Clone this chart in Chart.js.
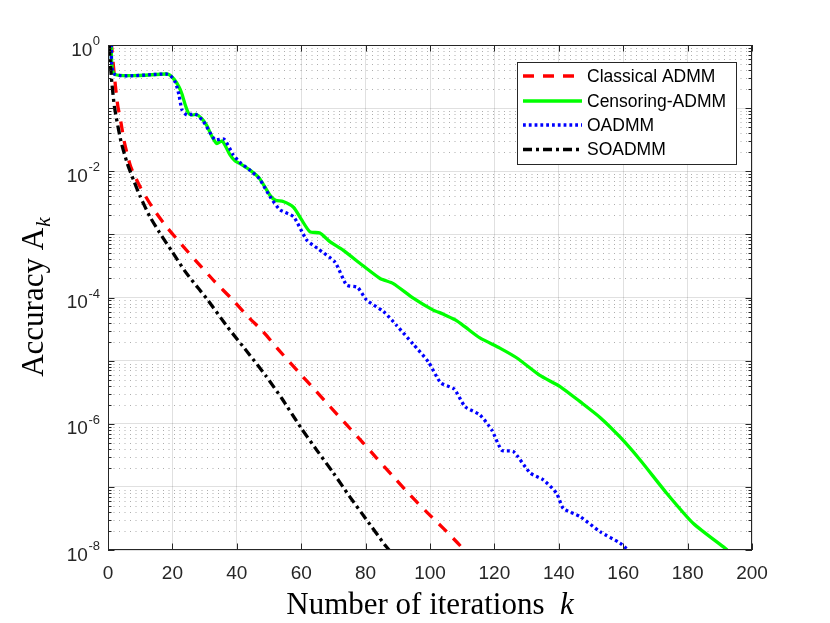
<!DOCTYPE html>
<html>
<head>
<meta charset="utf-8">
<script src="https://cdn.jsdelivr.net/npm/chart.js@4.4.1/dist/chart.umd.min.js"></script>
<style>
  html, body { margin: 0; padding: 0; background: #fff; }
  #wrap { width: 830px; height: 623px; position: relative; }
</style>
</head>
<body>
<div id="wrap"><canvas id="grafico"></canvas></div>
<script>
// iteration k and accuracy A_k
const kClassical = [1, 2, 3, 4, 5, 7, 10, 14, 18, 23, 28, 33, 38, 44, 48, 53, 59, 64, 69, 74, 79, 83, 89, 94, 99, 104, 109, 110.5];
const accClassical = [1.12, 0.316, 0.112, 0.0603, 0.0302, 0.0120, 5.62e-3, 2.57e-3, 1.35e-3, 6.76e-4, 3.47e-4, 1.82e-4, 1.0e-4,
  4.68e-5, 2.95e-5, 1.48e-5, 6.76e-6, 3.55e-6, 1.86e-6, 9.77e-7, 5.13e-7, 3.02e-7, 1.38e-7, 7.24e-8, 3.98e-8, 2.24e-8, 1.23e-8, 1.0e-8];

const kCensoring = [1, 2, 18, 19, 20.5, 22, 23, 24, 25, 26, 27.5, 29, 30.6, 32.3, 33.8, 35.5, 37.9, 39.5, 41, 44, 47, 50.3, 52, 54.4,
  57.6, 60, 62.7, 65.8, 69, 73, 79, 84.5, 88.6, 94.8, 101, 104, 108, 111, 115.5, 121.7, 127, 134, 140.4, 146.6, 152.8, 159, 165.2,
  173.5, 181.8, 191.6, 192.3];
const accCensoring = [1.26, 0.347, 0.347, 0.339, 0.288, 0.219, 0.166, 0.112, 0.0832, 0.0776, 0.0794, 0.0692, 0.0537, 0.0355, 0.0275,
  0.0302, 0.0182, 0.0145, 0.0132, 0.0105, 7.76e-3, 4.17e-3, 3.47e-3, 3.31e-3, 2.69e-3, 1.74e-3, 1.10e-3, 1.05e-3, 7.59e-4, 5.62e-4,
  3.24e-4, 2.00e-4, 1.66e-4, 9.77e-5, 6.31e-5, 5.50e-5, 4.37e-5, 3.39e-5, 2.29e-5, 1.58e-5, 1.10e-5, 5.89e-6, 3.89e-6, 2.24e-6,
  1.26e-6, 6.17e-7, 2.69e-7, 7.94e-8, 2.63e-8, 1.07e-8, 1.0e-8];

const kOadmm = [1, 2, 18, 19.5, 21, 22, 23, 24.5, 27, 29.6, 33.2, 36, 38.9, 41, 44, 47, 50.3, 53.4, 57.6, 61.7, 65, 70.5, 74.1, 77.5,
  80.3, 85.5, 89.6, 94.8, 99.5, 103.3, 107.5, 110.9, 115.5, 119.2, 122.3, 125.9, 131.1, 135.2, 139.3, 141.4, 146.6, 152.8, 159, 161.5];
const accOadmm = [1.26, 0.347, 0.347, 0.324, 0.251, 0.166, 0.0933, 0.0776, 0.0813, 0.0617, 0.0316, 0.0324, 0.0182, 0.0138, 0.0105,
  7.59e-3, 3.98e-3, 2.45e-3, 1.91e-3, 8.13e-4, 6.03e-4, 3.63e-4, 1.58e-4, 1.45e-4, 9.12e-5, 6.03e-5, 3.63e-5, 1.82e-5, 9.55e-6,
  4.47e-6, 3.55e-6, 1.86e-6, 1.38e-6, 7.94e-7, 3.80e-7, 3.63e-7, 1.66e-7, 1.29e-7, 7.94e-8, 4.57e-8, 3.39e-8, 1.95e-8, 1.29e-8, 1.0e-8];

const kSoadmm = [0, 1, 2, 4, 6, 8, 10, 13, 16, 20, 24, 28, 31, 37, 44, 49, 54, 60, 65, 70, 75, 80, 86, 87.3];
const accSoadmm = [2.0, 0.331, 0.105, 0.0302, 0.0132, 7.08e-3, 3.98e-3, 1.91e-3, 1.07e-3, 5.25e-4, 2.57e-4, 1.41e-4, 9.12e-5,
  3.47e-5, 1.23e-5, 5.75e-6, 2.51e-6, 8.51e-7, 3.72e-7, 1.66e-7, 7.08e-8, 3.16e-8, 1.20e-8, 1.0e-8];

const seriesNames = ['Classical ADMM', 'Censoring-ADMM', 'OADMM', 'SOADMM'];
const xTickStep = 20;
const yLabelValues = [1, 1e-2, 1e-4, 1e-6, 1e-8];
const yLabelExp = ['0', '-2', '-4', '-6', '-8'];
const xTitle = 'Number of iterations  ';
const xTitleVar = 'k';
const yTitle = 'Accuracy A';
const yTitleSub = 'k';

// minor log grid: 1..9 x 10^e
const yGridValues = [];
for (let e = -8; e < 0; e++) {
  for (let m = 1; m <= 9; m++) yGridValues.push(m * Math.pow(10, e));
}
yGridValues.push(1);

const sansFont = '"Liberation Sans", Arial, Helvetica, sans-serif';
const serifFont = '"Liberation Serif", "Times New Roman", serif';
const axisColor = '#262626';
const titleSize = 31;
const subSize = 22;

function pts(ks, vals) {
  return ks.map((k, i) => ({ x: k, y: vals[i] }));
}
function esPotencia(v) {
  const l = Math.log10(v);
  return Math.abs(l - Math.round(l)) < 1e-6;
}

const estilos = [
  { color: '#ff0000', dash: [11, 9], order: 4 },
  { color: '#00ff00', dash: [], order: 3 },
  { color: '#0000ff', dash: [2.8, 3], order: 2 },
  { color: '#000000', dash: [9, 4, 3, 4], order: 1 }
];
const series = [pts(kClassical, accClassical), pts(kCensoring, accCensoring), pts(kOadmm, accOadmm), pts(kSoadmm, accSoadmm)];

const matlabLook = {
  id: 'matlabLook',
  beforeDatasetsDraw(chart) {
    const { ctx, chartArea: a } = chart;
    const ys = chart.scales.y;
    ctx.save();
    ctx.strokeStyle = 'rgba(0,0,0,0.32)';
    ctx.lineWidth = 1;
    ctx.setLineDash([1, 4.5]);
    yGridValues.forEach(v => {
      if (esPotencia(v)) return;
      const py = Math.round(ys.getPixelForValue(v)) + 0.5;
      ctx.beginPath();
      ctx.moveTo(a.left, py);
      ctx.lineTo(a.right, py);
      ctx.stroke();
    });
    ctx.restore();
  },
  afterDraw(chart) {
    const { ctx, chartArea: a } = chart;
    const xs = chart.scales.x, ys = chart.scales.y;
    ctx.save();

    // box and inward ticks
    ctx.strokeStyle = axisColor;
    ctx.lineWidth = 1;
    ctx.strokeRect(a.left + 0.5, a.top + 0.5, a.right - a.left - 1, a.bottom - a.top - 1);
    ctx.beginPath();
    for (let k = 0; k <= 200; k += xTickStep) {
      const px = Math.round(xs.getPixelForValue(k)) + 0.5;
      ctx.moveTo(px, a.bottom); ctx.lineTo(px, a.bottom - 6.5);
      ctx.moveTo(px, a.top); ctx.lineTo(px, a.top + 6.5);
    }
    yGridValues.forEach(v => {
      const py = Math.round(ys.getPixelForValue(v)) + 0.5;
      const len = esPotencia(v) ? 6.5 : 3.5;
      ctx.moveTo(a.left, py); ctx.lineTo(a.left + len, py);
      ctx.moveTo(a.right, py); ctx.lineTo(a.right - len, py);
    });
    ctx.stroke();

    // y tick labels 10^n
    ctx.fillStyle = axisColor;
    ctx.textAlign = 'right';
    ctx.textBaseline = 'middle';
    yLabelValues.forEach((v, i) => {
      const py = ys.getPixelForValue(v);
      ctx.font = '13px ' + sansFont;
      const ew = ctx.measureText(yLabelExp[i]).width;
      ctx.fillText(yLabelExp[i], a.left - 8, py - 3.5);
      ctx.font = '19px ' + sansFont;
      ctx.fillText('10', a.left - 8 - ew - 0.5, py + 5.5);
    });

    // axis titles
    ctx.fillStyle = '#000';
    ctx.textAlign = 'left';
    ctx.textBaseline = 'alphabetic';
    ctx.font = titleSize + 'px ' + serifFont;
    const w1 = ctx.measureText(xTitle).width;
    ctx.font = 'italic ' + titleSize + 'px ' + serifFont;
    const w2 = ctx.measureText(xTitleVar).width;
    const cx = (a.left + a.right) / 2;
    let sx = cx - (w1 + w2) / 2;
    ctx.font = titleSize + 'px ' + serifFont;
    ctx.fillText(xTitle, sx, 614);
    ctx.font = 'italic ' + titleSize + 'px ' + serifFont;
    ctx.fillText(xTitleVar, sx + w1, 614);

    ctx.save();
    ctx.translate(43, (a.top + a.bottom) / 2);
    ctx.rotate(-Math.PI / 2);
    ctx.font = titleSize + 'px ' + serifFont;
    const w3 = ctx.measureText(yTitle).width;
    ctx.font = 'italic ' + subSize + 'px ' + serifFont;
    const w4 = ctx.measureText(yTitleSub).width;
    sx = -(w3 + w4) / 2;
    ctx.font = titleSize + 'px ' + serifFont;
    ctx.fillText(yTitle, sx, 0);
    ctx.font = 'italic ' + subSize + 'px ' + serifFont;
    ctx.fillText(yTitleSub, sx + w3 + 1, 7);
    ctx.restore();

    // legend box
    const lx = 517, ly = 62, lw = 219, lh = 102;
    ctx.fillStyle = '#fff';
    ctx.fillRect(lx, ly, lw, lh);
    ctx.strokeStyle = axisColor;
    ctx.lineWidth = 1;
    ctx.setLineDash([]);
    ctx.strokeRect(lx + 0.5, ly + 0.5, lw, lh);
    const rows = [76, 101, 125, 149.5];
    chart.data.datasets.forEach((ds, i) => {
      ctx.strokeStyle = ds.borderColor;
      ctx.lineWidth = ds.borderWidth;
      ctx.setLineDash(ds.borderDash);
      ctx.beginPath();
      ctx.moveTo(lx + 6, rows[i]);
      ctx.lineTo(lx + 65, rows[i]);
      ctx.stroke();
      ctx.setLineDash([]);
      ctx.fillStyle = '#000';
      ctx.font = '17.5px ' + sansFont;
      ctx.textBaseline = 'middle';
      ctx.fillText(ds.label, lx + 70, rows[i] + 1);
    });
    ctx.restore();
  }
};

new Chart(document.getElementById('grafico'), {
  type: 'line',
  data: {
    datasets: series.map((d, i) => ({
      label: seriesNames[i],
      data: d,
      borderColor: estilos[i].color,
      borderDash: estilos[i].dash,
      borderWidth: 3.3,
      pointRadius: 0,
      fill: false,
      tension: 0.2,
      clip: 0,
      order: estilos[i].order
    }))
  },
  options: {
    responsive: true,
    maintainAspectRatio: false,
    animation: false,
    layout: { padding: { top: 45, right: 78, left: 0, bottom: 0 } },
    plugins: {
      legend: { display: false },
      tooltip: { enabled: false }
    },
    scales: {
      x: {
        type: 'linear',
        min: 0,
        max: 200,
        afterFit: s => { s.height = 73; },
        ticks: {
          stepSize: xTickStep,
          color: axisColor,
          padding: 12,
          maxRotation: 0,
          font: { family: sansFont, size: 19 }
        },
        grid: { color: 'rgba(0,0,0,0.12)', drawTicks: false },
        border: { display: false }
      },
      y: {
        type: 'logarithmic',
        min: 1e-8,
        max: 1,
        afterFit: s => { s.width = 108; },
        afterBuildTicks: s => { s.ticks = yGridValues.map(v => ({ value: v })); },
        ticks: { display: false },
        grid: {
          color: c => (c.tick && esPotencia(c.tick.value)) ? 'rgba(0,0,0,0.12)' : 'rgba(0,0,0,0)',
          drawTicks: false
        },
        border: { display: false }
      }
    }
  },
  plugins: [matlabLook]
});
</script>
</body>
</html>
